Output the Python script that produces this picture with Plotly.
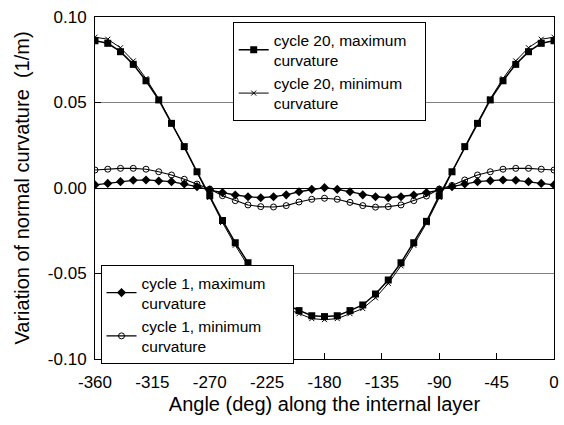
import plotly.graph_objects as go

angles = list(range(-360, 1, 10))

c20_max = [0.0861, 0.0846, 0.0797, 0.0723, 0.0627, 0.0515, 0.0378, 0.0242, 0.0095, -0.0045,
           -0.0190, -0.0320, -0.0437, -0.0538, -0.0620, -0.0684, -0.0717, -0.0747, -0.0752,
           -0.0747, -0.0717, -0.0684, -0.0620, -0.0538, -0.0437, -0.0320, -0.0195, -0.0045,
           0.0095, 0.0242, 0.0378, 0.0515, 0.0627, 0.0723, 0.0797, 0.0846, 0.0861]

c20_min = [0.0882, 0.0870, 0.0820, 0.0743, 0.0640, 0.0522, 0.0382, 0.0240, 0.0090, -0.0055,
           -0.0202, -0.0335, -0.0455, -0.0558, -0.0642, -0.0705, -0.0735, -0.0764, -0.0770,
           -0.0764, -0.0735, -0.0705, -0.0642, -0.0558, -0.0455, -0.0335, -0.0205, -0.0055,
           0.0090, 0.0240, 0.0382, 0.0522, 0.0640, 0.0743, 0.0820, 0.0870, 0.0882]

c1_max = [0.0018, 0.0027, 0.0037, 0.0045, 0.0047, 0.0041, 0.0037, 0.0023, 0.0008, -0.0012,
          -0.0027, -0.0041, -0.0051, -0.0057, -0.0051, -0.0040, -0.0022, -0.0008, 0.0002,
          -0.0008, -0.0022, -0.0040, -0.0051, -0.0057, -0.0051, -0.0041, -0.0027, -0.0012,
          0.0008, 0.0023, 0.0037, 0.0043, 0.0047, 0.0045, 0.0037, 0.0027, 0.0018]

c1_min = [0.0105, 0.0110, 0.0115, 0.0115, 0.0110, 0.0095, 0.0076, 0.0051, 0.0023, -0.0006,
          -0.0045, -0.0074, -0.0099, -0.0109, -0.0111, -0.0103, -0.0082, -0.0066, -0.0060,
          -0.0066, -0.0084, -0.0103, -0.0112, -0.0109, -0.0099, -0.0074, -0.0047, -0.0006,
          0.0015, 0.0047, 0.0076, 0.0095, 0.0110, 0.0115, 0.0115, 0.0110, 0.0105]

x_ticks = [-360, -315, -270, -225, -180, -135, -90, -45, 0]
x_ticktext = ["-360", "-315", "-270", "-225", "-180", "-135", "-90", "-45", "0"]
y_ticks = [-0.10, -0.05, 0.0, 0.05, 0.10]
y_ticktext = ["-0.10", "-0.05", "0.00", "0.05", "0.10"]

FONT = "Liberation Sans, Arial, sans-serif"
PAD1 = "&nbsp;" * 5
PAD20 = "&nbsp;" * 3

fig = go.Figure()
fig.add_trace(go.Scatter(x=angles, y=c1_max, mode="lines+markers",
                         name="cycle 1, maximum" + PAD1 + "<br>curvature", legend="legend2",
                         line=dict(color="black", width=1.3),
                         marker=dict(symbol="diamond", size=7, color="black")))
fig.add_trace(go.Scatter(x=angles, y=c1_min, mode="lines+markers",
                         name="cycle 1, minimum<br>curvature", legend="legend2",
                         line=dict(color="black", width=1.1),
                         marker=dict(symbol="circle-open", size=6, color="black",
                                     line=dict(width=1, color="black"))))
fig.add_trace(go.Scatter(x=angles, y=c20_min, mode="lines+markers",
                         name="cycle 20, minimum<br>curvature", legend="legend",
                         line=dict(color="black", width=1),
                         marker=dict(symbol="x-thin", size=5, color="black",
                                     line=dict(width=1, color="black"))))
fig.add_trace(go.Scatter(x=angles, y=c20_max, mode="lines+markers",
                         name="cycle 20, maximum" + PAD20 + "<br>curvature", legend="legend",
                         line=dict(color="black", width=1.5),
                         marker=dict(symbol="square", size=7, color="black")))

fig.update_layout(
    width=564, height=425,
    margin=dict(l=95, r=5, t=17, b=66),
    paper_bgcolor="white", plot_bgcolor="white",
    font=dict(family=FONT, size=17, color="black"),
    legend=dict(x=0.30, y=0.985, xanchor="left", yanchor="top",
                bgcolor="white", bordercolor="black", borderwidth=1,
                font=dict(size=15.5), traceorder="reversed", tracegroupgap=0,
                itemwidth=30),
    legend2=dict(x=0.012, y=0.275, xanchor="left", yanchor="top",
                 bgcolor="white", bordercolor="black", borderwidth=1,
                 font=dict(size=15.5), traceorder="normal", tracegroupgap=0,
                 itemwidth=30),
)
fig.update_xaxes(range=[-360, 0], tickvals=x_ticks, ticktext=x_ticktext,
                 ticks="inside", ticklen=6, tickcolor="black", ticklabelstandoff=8,
                 ticklabeloverflow="allow",
                 showgrid=False, zeroline=False,
                 showline=True, linecolor="black", linewidth=1, mirror=True,
                 title=dict(text="Angle (deg) along the internal layer", standoff=5))
fig.update_yaxes(range=[-0.1, 0.1], tickvals=y_ticks, ticktext=y_ticktext,
                 ticks="inside", ticklen=6, tickcolor="black", ticklabelstandoff=4,
                 ticklabeloverflow="allow",
                 showgrid=True, gridcolor="#808080", gridwidth=1,
                 zeroline=True, zerolinecolor="black", zerolinewidth=1,
                 showline=True, linecolor="black", linewidth=1, mirror=True,
                 title=dict(text="Variation of normal curvature  (1/m)", standoff=12))

fig.write_html("out.html")
